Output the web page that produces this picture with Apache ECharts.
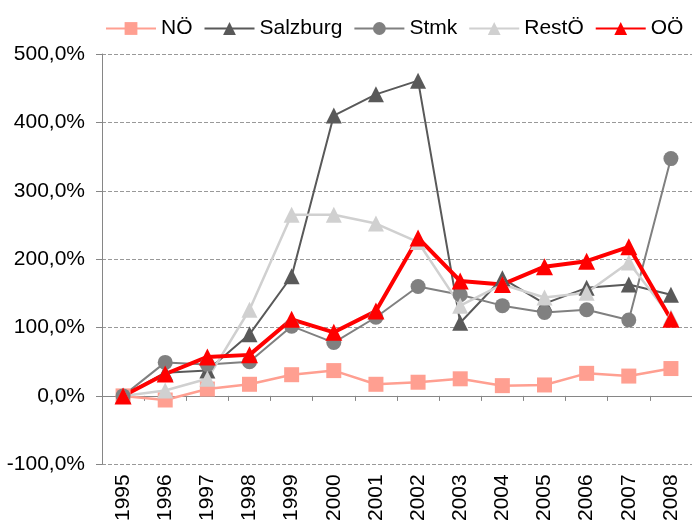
<!DOCTYPE html>
<html>
<head>
<meta charset="utf-8">
<script src="https://cdn.jsdelivr.net/npm/echarts@6/dist/echarts.min.js"></script>
<style>
  html, body { margin: 0; padding: 0; background: #fff; }
  #chart { width: 692px; height: 524px; }
</style>
</head>
<body>
<div id="chart"></div>
<script>
// Jahre und Veränderung in % gegenüber 1995
const years = ['1995', '1996', '1997', '1998', '1999', '2000', '2001',
               '2002', '2003', '2004', '2005', '2006', '2007', '2008'];
const noe      = [0, -6, 10, 17, 31, 37, 17, 20, 25, 15, 16, 33, 29, 40];
const salzburg = [0, 34, 37, 90, 175, 410, 441, 461, 107, 172, 135, 158, 163, 148];
const stmk     = [0, 49, 46, 50, 102, 78, 115, 160, 148, 132, 122, 126, 111, 347];
const restOe   = [0, 8, 25, 126, 265, 265, 252, 225, 132, 163, 144, 151, 195, 115];
const ooe      = [0, 32, 57, 60, 112, 93, 124, 231, 168, 163, 189, 197, 218, 112];

const font = 'Liberation Sans, Arial, sans-serif';
const axisGray = '#868686';

function line(name, data, color, symbol, size, width) {
  return {
    name: name,
    type: 'line',
    data: data,
    symbol: symbol,
    symbolSize: size,
    lineStyle: { color: color, width: width },
    itemStyle: { color: color },
    animation: false
  };
}

const chart = echarts.init(document.getElementById('chart'));
chart.setOption({
  textStyle: { fontFamily: font },
  legend: {
    left: 100,
    top: 13,
    itemWidth: 50,
    itemHeight: 16,
    itemGap: 11,
    textStyle: { fontSize: 21, color: '#000', fontFamily: font },
    data: ['NÖ', 'Salzburg', 'Stmk', 'RestÖ', 'OÖ']
  },
  grid: { left: 102, top: 54, width: 600, height: 412 },
  xAxis: [
    {
      type: 'category',
      data: years,
      boundaryGap: true,
      axisLine: { onZero: true, lineStyle: { color: axisGray, width: 1 } },
      axisTick: { show: true, length: 5, lineStyle: { color: axisGray } },
      axisLabel: { show: false },
      splitLine: { show: false }
    },
    {
      type: 'category',
      data: years,
      position: 'bottom',
      boundaryGap: true,
      axisLine: { show: false, onZero: false },
      axisTick: { show: false },
      axisLabel: { rotate: 90, margin: 10, fontSize: 21, color: '#000', fontFamily: font, interval: 0 },
      splitLine: { show: false }
    }
  ],
  yAxis: {
    type: 'value',
    min: -100,
    max: 500,
    interval: 100,
    axisLine: { show: true, lineStyle: { color: axisGray, width: 1 } },
    axisTick: { show: true, length: 6, lineStyle: { color: axisGray } },
    axisLabel: {
      margin: 17,
      fontSize: 21,
      color: '#000',
      fontFamily: font,
      formatter: function (v) { return v.toFixed(1).replace('.', ',') + '%'; }
    },
    splitLine: { show: true, lineStyle: { color: '#999', type: 'dashed', width: 1 } }
  },
  series: [
    line('NÖ', noe, '#FF9F91', 'rect', 15, 2.5),
    line('Salzburg', salzburg, '#595959', 'triangle', 16, 2),
    line('Stmk', stmk, '#808080', 'circle', 15, 2),
    line('RestÖ', restOe, '#D0D0D0', 'triangle', 16, 2.5),
    line('OÖ', ooe, '#FF0000', 'triangle', 17, 4)
  ]
});
</script>
</body>
</html>
